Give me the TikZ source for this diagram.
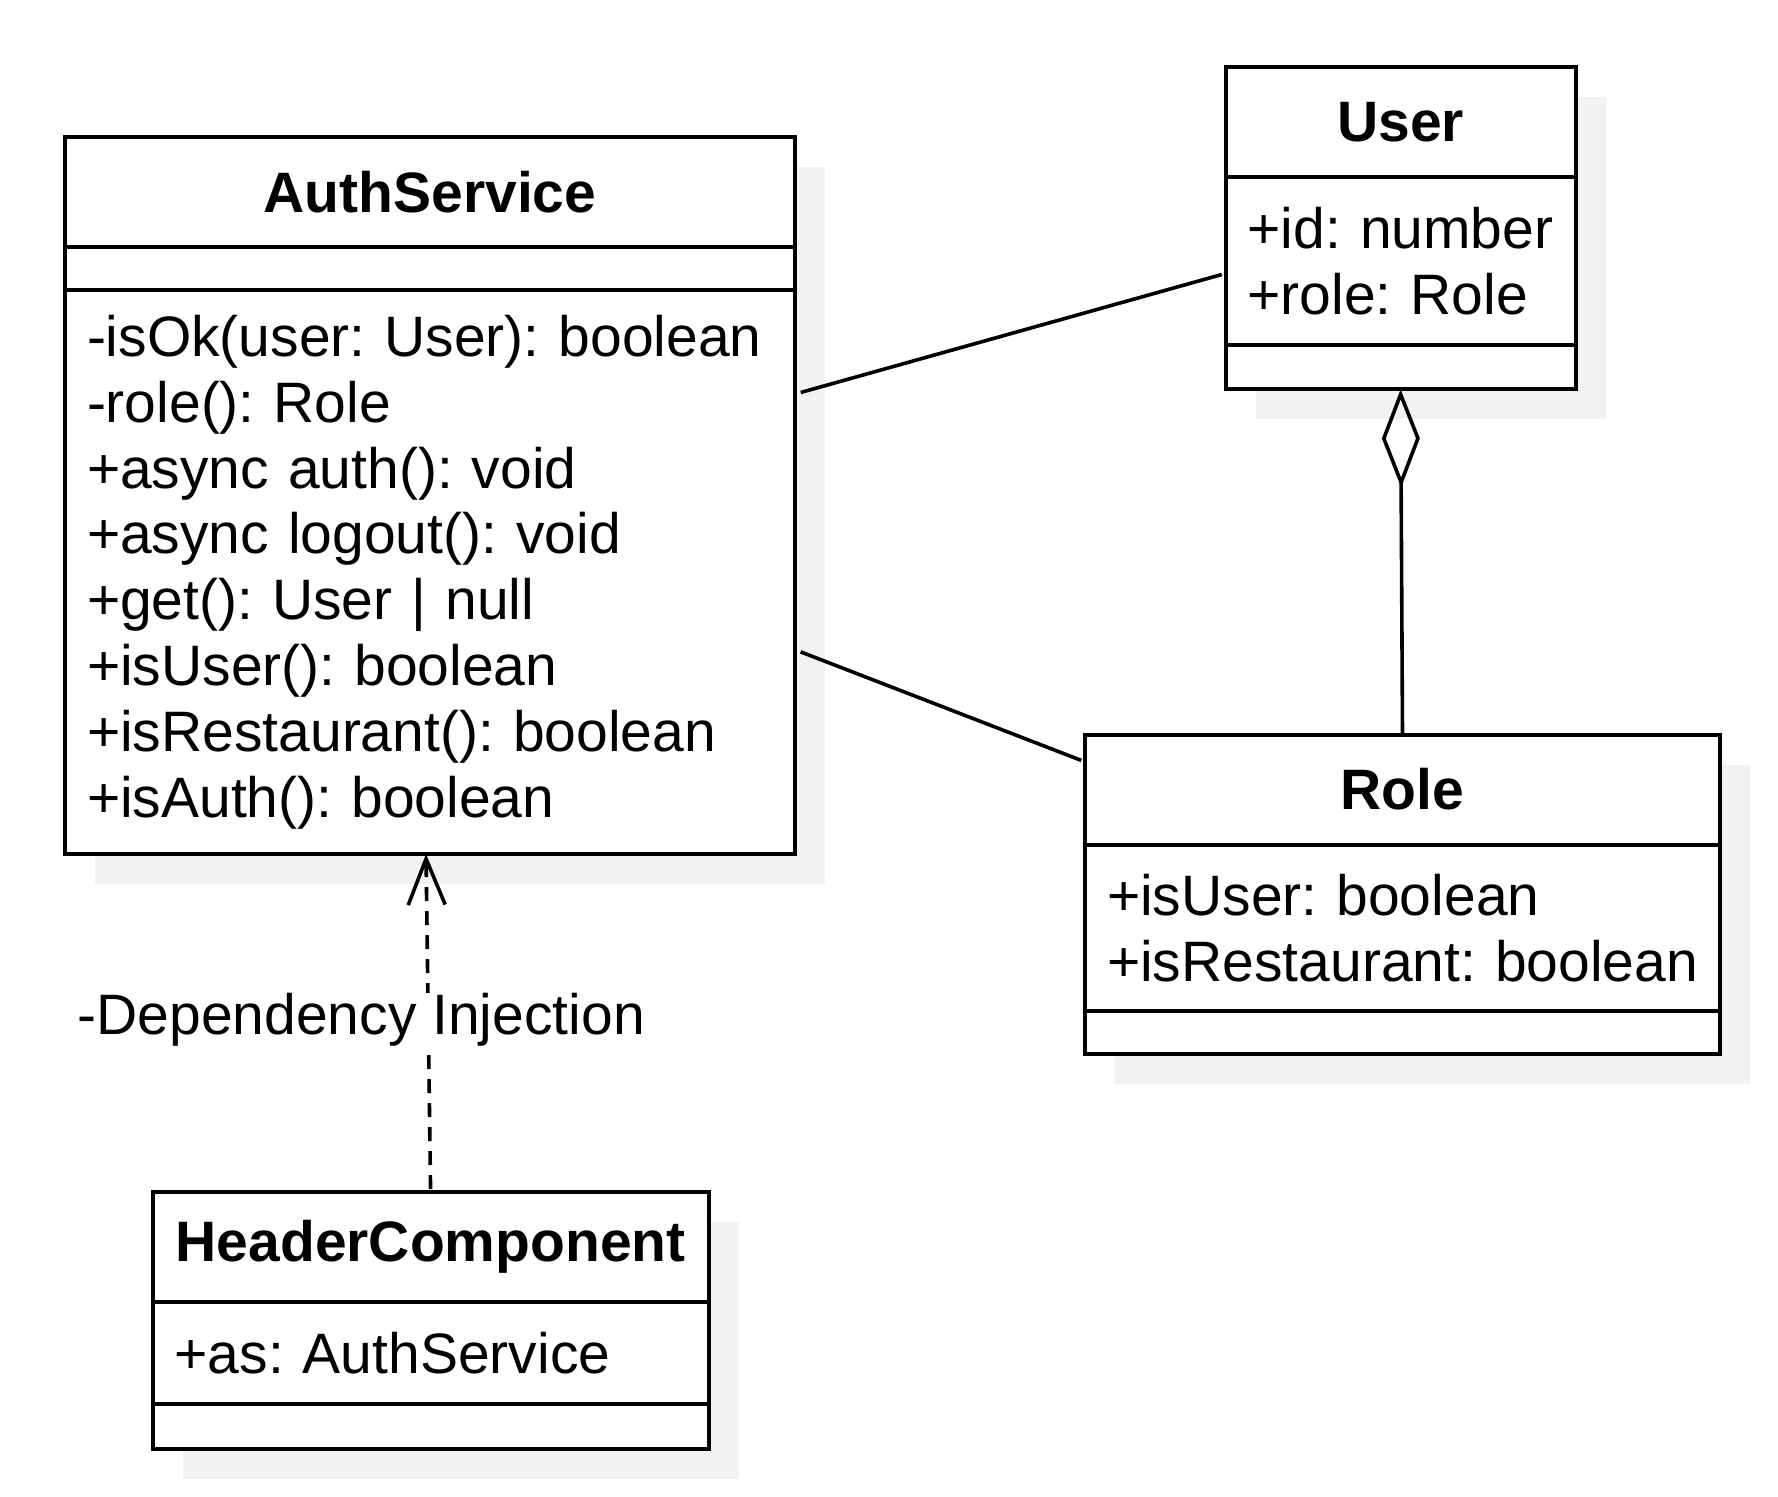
\documentclass[tikz,border=0pt]{standalone}
\usepackage{fontspec}
\setmainfont{Liberation Sans}
\usepackage{tikz}
\usepackage{xcolor}
\usetikzlibrary{arrows.meta, positioning, shadows}
\definecolor{shadowgray}{RGB}{242, 242, 242}
\frenchspacing

\begin{document}
\begin{tikzpicture}[
    umltitle/.style={
        rectangle, draw=black, line width=2pt, fill=white,
        outer sep=0pt, inner sep=0pt,
        minimum height=55pt,
        font=\fontsize{28.5}{32.9}\selectfont\bfseries,
        drop shadow={shadow xshift=15pt, shadow yshift=-15pt, fill=shadowgray, opacity=1}
    },
    umlpart/.style={
        rectangle, draw=black, line width=2pt, fill=white,
        outer sep=0pt, inner xsep=11pt, inner ysep=2pt,
        text width=#1, align=left,
        font=\fontsize{28.5}{32.9}\selectfont,
        drop shadow={shadow xshift=15pt, shadow yshift=-15pt, fill=shadowgray, opacity=1}
    },
    link/.style={
        line width=1.8pt, draw=black, shorten <=3pt, shorten >=2pt
    }
]
\useasboundingbox (0,0) rectangle (889pt,-748pt);

% AuthService
\node[umltitle, minimum width=365pt, anchor=north west] (auth) at (32.5pt,-68.4pt) {AuthService};
\node[umlpart=343pt, minimum height=21.7pt, below=0pt of auth] (authAttr) {};
\node[umlpart=343pt, minimum height=281.9pt, below=0pt of authAttr] (authOps) {-isOk(user: User): boolean\\-role(): Role\\+async auth(): void\\+async logout(): void\\+get(): User | null\\+isUser(): boolean\\+isRestaurant(): boolean\\+isAuth(): boolean};

% User
\node[umltitle, minimum width=175pt, anchor=north west] (user) at (612.8pt,-33.5pt) {User};
\node[umlpart=153pt, minimum height=84.2pt, below=0pt of user] (userAttr) {+id: number\\+role: Role};
\node[umlpart=153pt, minimum height=22pt, below=0pt of userAttr] (userOps) {};

% Role
\node[umltitle, minimum width=317.5pt, anchor=north west] (role) at (542.5pt,-367.3pt) {Role};
\node[umlpart=295.5pt, minimum height=83.2pt, below=0pt of role] (roleAttr) {+isUser: boolean\\+isRestaurant: boolean};
\node[umlpart=295.5pt, minimum height=21.7pt, below=0pt of roleAttr] (roleOps) {};

% HeaderComponent
\node[umltitle, minimum width=278pt, anchor=north west] (header) at (76.3pt,-596pt) {HeaderComponent};
\node[umlpart=256pt, minimum height=50.8pt, below=0pt of header] (headerAttr) {+as: AuthService};
\node[umlpart=256pt, minimum height=22.5pt, below=0pt of headerAttr] (headerOps) {};

% Associations
\draw[link] (authOps.26) -- (userAttr.184);
\draw[link] (authOps.348) -- (role.175);
\draw[line width=1.8pt, {Diamond[open, length=49pt, width=19pt]}-] (userOps.south) -- (role.north);

% Dependency
\draw[line width=1.8pt, dash pattern=on 7pt off 5pt, -{Straight Barb[length=23pt, width=18.5pt]}, shorten <=1.5pt]
    (header.north) -- ([xshift=-2pt]authOps.south)
    node[pos=0.51, xshift=-33.5pt, fill=white, inner sep=0pt, font=\fontsize{28.5}{32.9}\selectfont] (depLabel) {-Dependency Injection};

\end{tikzpicture}
\end{document}
